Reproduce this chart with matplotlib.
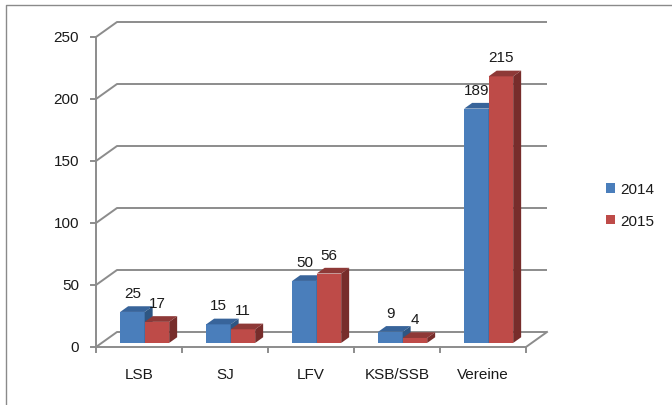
import numpy as np
import matplotlib
matplotlib.use("Agg")
import matplotlib.pyplot as plt
from matplotlib.patches import Polygon
from matplotlib.lines import Line2D

# === Data ===
categories = ["LSB", "SJ", "LFV", "KSB/SSB", "Vereine"]
values_2014 = [25, 15, 50, 9, 189]
values_2015 = [17, 11, 56, 4, 215]
series_names = ["2014", "2015"]
y_ticks = [0, 50, 100, 150, 200, 250]

# === Style ===
plt.rcParams['font.family'] = ['Liberation Sans', 'DejaVu Sans']
FS = 11
TEXT_C = "#1a1a1a"
AXIS_C = "#8c8c8c"
faces = [
    {"front": "#4A7EBB", "top": "#38649A", "side": "#2E5683"},   # 2014
    {"front": "#BE4B48", "top": "#8E3937", "side": "#772D2B"},   # 2015
]

W, H = 672, 406
fig = plt.figure(figsize=(W / 100, H / 100), dpi=100)
ax = fig.add_axes([0, 0, 1, 1])

# pixel scale of the pseudo 3d chart
PX_X = 86.0     # px per category
PX_Y = 1.24     # px per value unit
X0_PX = 96      # front value axis from left
Y0_PX = 58      # zero line from bottom
ax.set_xlim(-0.5 - X0_PX / PX_X, -0.5 + (W - X0_PX) / PX_X)
ax.set_ylim(-Y0_PX / PX_Y, (H - Y0_PX) / PX_Y)
ax.axis('off')

DX = 21 / PX_X   # full depth of the box
DY = 15 / PX_Y
n = len(categories)
x_left, x_right = -0.5, n - 0.5

# figure border (left and top only visible)
fig.add_artist(Line2D([6 / W, 6 / W, 1], [0, 1 - 6 / H, 1 - 6 / H],
                      transform=fig.transFigure, color="#8a8a8a", lw=1))

# back wall gridlines + side diagonals
for v in y_ticks:
    ax.plot([x_left, x_left + DX, x_right + DX], [v, v + DY, v + DY],
            color=AXIS_C, lw=1.4, zorder=1, solid_capstyle='butt')
    ax.plot([x_left - 5 / PX_X, x_left], [v, v], color=AXIS_C, lw=1.4, zorder=1)
    ax.text(x_left - 17 / PX_X, v, str(v), ha='right', va='center',
            fontsize=FS, color=TEXT_C)

# floor front edge and right diagonal, front value axis
ax.plot([x_left, x_right, x_right + DX], [0, 0, DY], color=AXIS_C, lw=1.4, zorder=1)
ax.plot([x_left, x_left], [0, y_ticks[-1]], color=AXIS_C, lw=1.4, zorder=1)
for k in range(n + 1):
    b = k - 0.5
    ax.plot([b, b], [0, -5 / PX_Y], color=AXIS_C, lw=1.4, zorder=1)

# category labels
for i, c in enumerate(categories):
    ax.text(i, -27 / PX_Y, c, ha='center', va='center', fontsize=FS, color=TEXT_C)

# === Bars ===
bw = 24.5 / PX_X          # bar width
z0 = 0.27                 # depth of the bar front plane
bdx, bdy = 0.38 * DX, 0.38 * DY   # bar own depth
base = z0 * DY
x = np.arange(n)
for s, vals in enumerate([values_2014, values_2015]):
    f = faces[s]
    zs = 2 + s
    lefts = x - bw + s * bw + z0 * DX
    ax.bar(lefts, vals, width=bw, bottom=base, align='edge', color=f["front"],
           zorder=zs, label=series_names[s], linewidth=0)
    for l, v in zip(lefts, vals):
        t = base + v
        ax.add_patch(Polygon([(l, t), (l + bw, t), (l + bw + bdx, t + bdy), (l + bdx, t + bdy)],
                             closed=True, facecolor=f["top"], edgecolor='none', zorder=zs + 0.1))
        ax.add_patch(Polygon([(l + bw, base), (l + bw + bdx, base + bdy),
                              (l + bw + bdx, t + bdy), (l + bw, t)],
                             closed=True, facecolor=f["side"], edgecolor='none', zorder=zs + 0.1))
        ax.text(l + bw / 2, t + 19 / PX_Y, str(v), ha='center', va='center',
                fontsize=FS, color=TEXT_C, zorder=5)

# === Legend ===
leg = ax.legend(loc='center left', bbox_to_anchor=(606 / W, 1 - 206 / H),
                bbox_transform=fig.transFigure, frameon=False, fontsize=FS,
                handlelength=0.6, handleheight=0.6, handletextpad=0.35,
                labelspacing=1.15, borderpad=0, borderaxespad=0)
for t in leg.get_texts():
    t.set_color(TEXT_C)

fig.savefig("out.png", dpi=100)
